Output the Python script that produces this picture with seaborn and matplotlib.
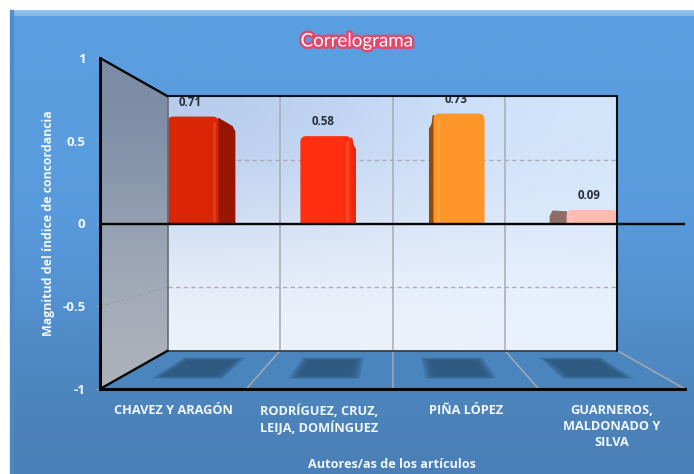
import numpy as np
import pandas as pd
import seaborn as sns
from matplotlib import pyplot as plt
from matplotlib import patheffects as pe
from matplotlib.colors import to_rgb
from matplotlib.patches import FancyBboxPatch, Polygon, Rectangle

sns.set_theme(style='white')
plt.rcParams['font.family'] = ['Open Sans', 'DejaVu Sans']

# datos del grafico
autores = ['CHAVEZ Y ARAGÓN', 'RODRÍGUEZ, CRUZ,\nLEIJA, DOMÍNGUEZ', 'PIÑA LÓPEZ', 'GUARNEROS,\nMALDONADO Y\nSILVA']
indices = [0.71, 0.58, 0.73, 0.09]
etiquetas = ['0.71', '0.58', '0.73', '0.09']
color_frente = ['#DA2506', '#FF2E10', '#FF962A', '#FFBBB2']
color_lado = ['#981600', '#E82A0C', '#8C4C0C', '#8F6C68']
ticks_y = [-1, -0.5, 0, 0.5, 1]
ticks_y_txt = ['-1', '-0.5', '0', '0.5', '1']

# profundidad del falso 3D: 1 = plano frontal, FONDO = pared del fondo
FONDO = 0.769
CARA = 0.91
TRAS = 0.825
FUGA_X = 1.5
W, H = 694, 474
BLANCO = '#F2F7FC'


def proy(x, y, f):
    return FUGA_X + (x - FUGA_X) * f, y * f


def degradado(ax, colores, extent, clip=None, zorder=0):
    arr = np.array([[to_rgb(c) for c in fila] for fila in colores])
    im = ax.imshow(arr, extent=extent, aspect='auto', interpolation='bicubic', zorder=zorder)
    if clip is not None:
        im.set_clip_path(clip)
    return im


fig = plt.figure(figsize=(W / 100, H / 100), dpi=100, facecolor='white')

# fondo del panel
bg = fig.add_axes([0, 0, 1, 1])
bg.set_xlim(0, W)
bg.set_ylim(H, 0)
bg.axis('off')
degradado(bg, [['#5A9EE0'], ['#5A9EE0'], ['#5592D2'], ['#4A80B6']], (10, W, H, 10))
degradado(bg, [['#94C8F6'], ['#7DB8EE']], (10, W, 16, 10), zorder=1)
bg.add_patch(Rectangle((10, 10), 3, H, color='#4E8AC6', alpha=0.8, zorder=1))
bg.set_xlim(0, W)
bg.set_ylim(H, 0)

# ejes principales, ocupan el plano frontal
ax = fig.add_axes([100 / W, (H - 389) / H, 585 / W, 331 / H])
ax.patch.set_alpha(0)

df = pd.DataFrame({'autor': autores, 'indice': indices})
sns.barplot(data=df, x='autor', y='indice', hue='autor', palette=color_frente, width=0.384,
            dodge=False, legend=False, ax=ax)
ax.set_xlim(-0.5, 3.5)
ax.set_ylim(-1, 1)
asp = (331 / 2) / (585 / 4)

# paredes y suelo
xi_f, y_f = proy(-0.5, 1, FONDO)
xd_f, _ = proy(3.5, 1, FONDO)
suelo = Polygon([(-0.5, -1), (xi_f, -y_f), (xd_f, -y_f), (3.5, -1)], closed=True, fc='#4A85BE', ec='none', zorder=1)
ax.add_patch(suelo)

pared = Polygon([(-0.5, 1), (xi_f, y_f), (xi_f, -y_f), (-0.5, -1)], closed=True, fc='none', ec='none', zorder=1)
ax.add_patch(pared)
degradado(ax, [['#7B8BA4'], ['#94A1B4'], ['#ADB1BA']], (-0.5, xi_f, -1, 1), clip=pared, zorder=1)

degradado(ax, [['#B6CBEC', '#C6DAF6', '#D2E5FB'], ['#D2DFF3', '#D9E5F7', '#DCE9FC'], ['#EDF2FA', '#EDF3FB', '#EAF2FD']],
          (xi_f, xd_f, -y_f, y_f), zorder=1)

# rejilla
for v in [-0.5, 0.5]:
    xa, ya = proy(-0.5, v, 1)
    xb, yb = proy(-0.5, v, FONDO)
    ax.plot([xa, xb], [ya, yb], color='#8E949C', lw=0.8, ls=(0, (3, 2)), alpha=0.6, zorder=2)
    ax.plot([xi_f, xd_f], [v * FONDO, v * FONDO], color='#A9ADB3', lw=1, ls=(0, (3, 2.5)), zorder=2)
for i in range(3):
    xb, yb = proy(i + 0.5, -1, FONDO)
    xa, ya = proy(i + 0.5, -1, 1)
    ax.plot([xb, xb], [yb, -yb], color='#A8ABB0', lw=1.1, zorder=2)
    ax.plot([xb, xa], [yb, ya], color='#A3A9AF', lw=1.1, zorder=2)
xb, yb = proy(3.5, -1, FONDO)
ax.plot([xb, 3.5], [yb, -1], color='#A3A9AF', lw=1.1, zorder=2)

# sombras de las barras en el suelo
for i in range(len(autores)):
    for k in np.linspace(1.0, 0.0, 8):
        h = 0.262 - 0.075 * k
        dn = 0.938 - 0.02 * k
        up = 0.81 + 0.02 * k
        esq = [proy(i - h, -1, dn), proy(i + h, -1, dn), proy(i + h, -1, up), proy(i - h, -1, up)]
        ax.add_patch(Polygon(esq, closed=True, fc='#2A5378', ec='none', alpha=0.2, lw=0, zorder=2.5))

# las barras de seaborn pasan a la perspectiva: lado y cara frontal
for i, bar in enumerate(list(ax.patches)):
    if not isinstance(bar, Rectangle) or bar.get_height() == 0:
        continue
    x0, w, v = bar.get_x(), bar.get_width(), bar.get_height()
    bar.remove()
    derecha = x0 + w / 2 < FUGA_X
    borde = x0 + w if derecha else x0
    signo = 1 if derecha else -1
    xf, yf = proy(borde, v, CARA)
    xt, yt = proy(borde, v, TRAS)
    chaf = min(0.03, yt * 0.4)
    lado = Polygon([(xf, 0), (xf, yf - 0.012), (xt - signo * 0.018, yt), (xt, yt - chaf), (xt, 0)], closed=True,
                   fc=color_lado[i], ec=color_lado[i], lw=1.0, joinstyle='round', zorder=3)
    ax.add_patch(lado)
    lado.set_clip_path(Rectangle((-0.5, 0), 4, 1, transform=ax.transData))
    xa, ya = proy(x0, v, CARA)
    xb, _ = proy(x0 + w, v, CARA)
    cara = FancyBboxPatch((xa, -0.1), xb - xa, ya + 0.1, boxstyle='round,pad=0,rounding_size=0.04',
                          mutation_aspect=1 / asp, fc=color_frente[i], ec='none', zorder=4)
    ax.add_patch(cara)
    cara.set_clip_path(Rectangle((-0.5, 0), 4, 1, transform=ax.transData))
    # brillo del bisel junto al lado
    ax.plot([xf - signo * 0.03] * 2, [0, ya - 0.03], color='white', alpha=0.1, lw=2.2, zorder=4.5, solid_capstyle='butt')
    xm, _ = proy(x0 + w / 2, v, CARA)
    txt = ax.annotate(etiquetas[i], (xm - 0.02, ya), xytext=(0, 14.5), textcoords='offset pixels', ha='center',
                      va='center', fontsize=8.4, fontweight='bold', color='#26303C', zorder=5, annotation_clip=False)
    txt.set_clip_path(Rectangle((xi_f, -y_f), xd_f - xi_f, 2 * y_f, transform=ax.transData))

# bordes
ax.plot([xi_f, xi_f], [-y_f, y_f], color='#667078', lw=1.2, zorder=6)
ax.plot([xi_f, xd_f], [-y_f, -y_f], color='#3A4046', lw=1.3, zorder=6)
ax.plot([xi_f, xd_f, xd_f], [y_f, y_f, -y_f], color='#0C0F14', lw=1.5, zorder=6)
ax.plot([-0.5, xi_f], [1, y_f], color='#080808', lw=1.7, zorder=6)
ax.plot([-0.5, xi_f], [-1, -y_f], color='#080808', lw=1.7, zorder=6)
ax.axhline(0, color='#050505', lw=1.7, zorder=7)

sns.despine(ax=ax, top=True, right=True)
for lado_eje in ['left', 'bottom']:
    ax.spines[lado_eje].set_color('#050505')
    ax.spines[lado_eje].set_linewidth(2.2)
    ax.spines[lado_eje].set_zorder(8)

ax.set_yticks(ticks_y, ticks_y_txt)
ax.tick_params(axis='y', left=True, length=3, width=1, color='#9AA3AC', pad=7.5, labelsize=9.5, labelcolor=BLANCO)
ax.tick_params(axis='x', bottom=False, pad=5, labelsize=9.2, labelcolor=BLANCO)
for t in ax.get_yticklabels():
    t.set_fontweight('bold')
for t in ax.get_xticklabels():
    t.set_fontweight('bold')
    t.set_linespacing(1.28)
    t.set_verticalalignment('top')
ax.set_xlabel('')
ax.set_ylabel('')
ax.set_xlim(-0.5, 3.5)
ax.set_ylim(-1, 1)

fig.text(49 / W, 1 - 223 / H, 'Magnitud del índice de concordancia', rotation=90, ha='center', va='center',
         fontsize=8.9, fontweight='bold', color=BLANCO)
fig.text(392 / W, 1 - 465 / H, 'Autores/as de los artículos', ha='center', va='center',
         fontsize=9.1, fontweight='bold', color=BLANCO)
fig.text(357 / W, 1 - 41 / H, 'Correlograma', ha='center', va='center', fontsize=13.5, color='white',
         family=['Lato', 'DejaVu Sans'], path_effects=[pe.withStroke(linewidth=3.5, foreground='#E2486C')])

fig.savefig('out.png', dpi=100)
